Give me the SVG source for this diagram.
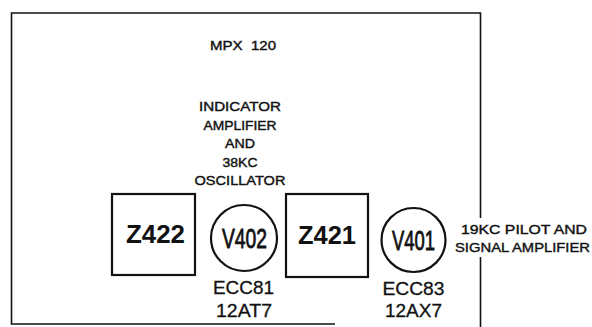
<svg xmlns="http://www.w3.org/2000/svg" width="592" height="327" viewBox="0 0 592 327">
<style>
.frame{fill:none;stroke:#111;stroke-width:1.6}
.box{fill:#fff;stroke:#111;stroke-width:2.2}
.tube{fill:#fff;stroke:#111;stroke-width:2.2}
text{font-family:"Liberation Sans",Arial,sans-serif;fill:#111;text-anchor:middle}
.big{font-size:25px;font-weight:bold}
.tl{font-size:27px;stroke:#111;stroke-width:0.8}
.sub{font-size:19px;stroke:#111;stroke-width:0.3}
.lbl{font-size:12.5px;stroke:#111;stroke-width:0.4}
.side{font-size:13.5px;text-anchor:start;stroke:#111;stroke-width:0.4}
</style>
<rect width="592" height="327" fill="#fff"/>
<g id="frame">
<path class="frame" d="M335,324 H11.5 V13 H480.5 V218 M480.5,257 V327"/>
</g>
<g id="title"><text class="lbl" x="243" y="50" xml:space="preserve" textLength="66" lengthAdjust="spacingAndGlyphs">MPX  120</text></g>
<g id="caption">
<text class="lbl" x="240" y="111" textLength="82" lengthAdjust="spacingAndGlyphs">INDICATOR</text>
<text class="lbl" x="240" y="129.5" textLength="73" lengthAdjust="spacingAndGlyphs">AMPLIFIER</text>
<text class="lbl" x="240" y="148" textLength="30" lengthAdjust="spacingAndGlyphs">AND</text>
<text class="lbl" x="240" y="166.5" textLength="35" lengthAdjust="spacingAndGlyphs">38KC</text>
<text class="lbl" x="240" y="185" textLength="91" lengthAdjust="spacingAndGlyphs">OSCILLATOR</text>
</g>
<g id="Z422">
<rect class="box" x="112" y="194" width="83" height="81"/>
<text class="big" x="155.5" y="243" textLength="59" lengthAdjust="spacingAndGlyphs">Z422</text>
</g>
<g id="V402">
<circle class="tube" cx="244" cy="238" r="33"/>
<text class="tl" x="244.5" y="248" textLength="45" lengthAdjust="spacingAndGlyphs">V402</text>
<text class="sub" x="243.5" y="294" textLength="61" lengthAdjust="spacingAndGlyphs">ECC81</text>
<text class="sub" x="244" y="317" textLength="56" lengthAdjust="spacingAndGlyphs">12AT7</text>
</g>
<g id="Z421">
<rect class="box" x="286" y="194" width="82" height="83"/>
<text class="big" x="327" y="244" textLength="58" lengthAdjust="spacingAndGlyphs">Z421</text>
</g>
<g id="V401">
<circle class="tube" cx="413.5" cy="240" r="32"/>
<text class="tl" x="413.5" y="250" textLength="43" lengthAdjust="spacingAndGlyphs">V401</text>
<text class="sub" x="413.5" y="295" textLength="62" lengthAdjust="spacingAndGlyphs">ECC83</text>
<text class="sub" x="413.5" y="317" textLength="57" lengthAdjust="spacingAndGlyphs">12AX7</text>
</g>
<g id="side">
<text class="side" x="461" y="234" textLength="126" lengthAdjust="spacingAndGlyphs">19KC PILOT AND</text>
<text class="side" x="455" y="252" textLength="135" lengthAdjust="spacingAndGlyphs">SIGNAL AMPLIFIER</text>
</g>
</svg>
